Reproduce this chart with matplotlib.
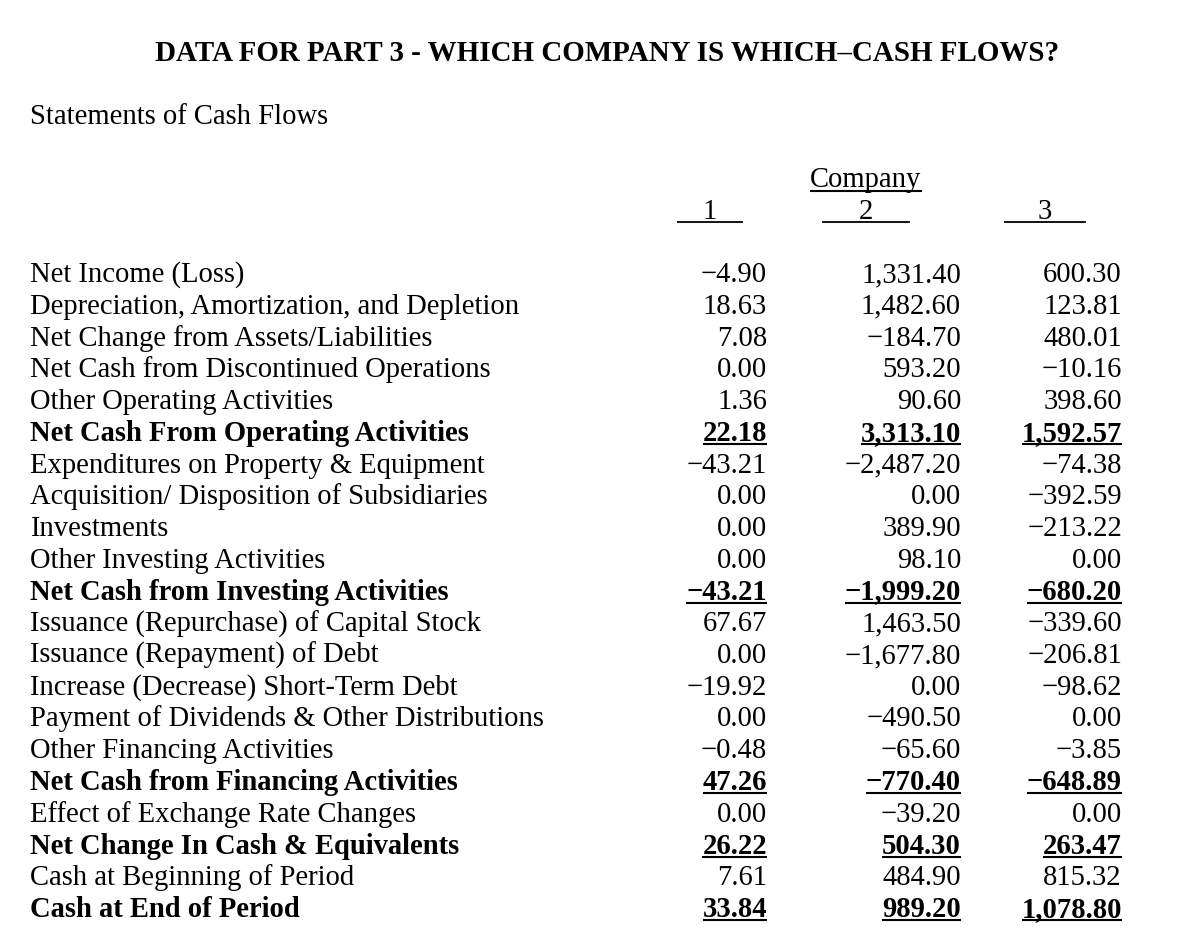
import matplotlib.pyplot as plt

plt.rcParams['font.family'] = ['Liberation Serif', 'DejaVu Serif']

title = 'DATA FOR PART 3 - WHICH COMPANY IS WHICH\u2013CASH FLOWS?'
subtitle = 'Statements of Cash Flows'
companies = ['1', '2', '3']

items = [
    'Net Income (Loss)',
    'Depreciation, Amortization, and Depletion',
    'Net Change from Assets/Liabilities',
    'Net Cash from Discontinued Operations',
    'Other Operating Activities',
    'Net Cash From Operating Activities',
    'Expenditures on Property & Equipment',
    'Acquisition/ Disposition of Subsidiaries',
    'Investments',
    'Other Investing Activities',
    'Net Cash from Investing Activities',
    'Issuance (Repurchase) of Capital Stock',
    'Issuance (Repayment) of Debt',
    'Increase (Decrease) Short-Term Debt',
    'Payment of Dividends & Other Distributions',
    'Other Financing Activities',
    'Net Cash from Financing Activities',
    'Effect of Exchange Rate Changes',
    'Net Change In Cash & Equivalents',
    'Cash at Beginning of Period',
    'Cash at End of Period',
]

company1 = [-4.90, 18.63, 7.08, 0.00, 1.36, 22.18, -43.21, 0.00, 0.00, 0.00, -43.21,
            67.67, 0.00, -19.92, 0.00, -0.48, 47.26, 0.00, 26.22, 7.61, 33.84]
company2 = [1331.40, 1482.60, -184.70, 593.20, 90.60, 3313.10, -2487.20, 0.00, 389.90, 98.10,
            -1999.20, 1463.50, -1677.80, 0.00, -490.50, -65.60, -770.40, -39.20, 504.30,
            484.90, 989.20]
company3 = [600.30, 123.81, 480.01, -10.16, 398.60, 1592.57, -74.38, -392.59, -213.22, 0.00,
            -680.20, -339.60, -206.81, -98.62, 0.00, -3.85, -648.89, 0.00, 263.47, 815.32,
            1078.80]

total_rows = [5, 10, 16, 18, 20]

fig = plt.figure(figsize=(11.8, 9.48), dpi=100)
ax = fig.add_axes([0, 0, 1, 1])
ax.set_xlim(0, 1180)
ax.set_ylim(948, 0)
ax.axis('off')

fs = 20.6
fig.canvas.draw()
renderer = fig.canvas.get_renderer()


def underline(t, y):
    bb = t.get_window_extent(renderer).transformed(ax.transData.inverted())
    ax.plot([bb.x0, bb.x1], [y, y], color='black', lw=1.5, solid_capstyle='butt')


ax.text(607, 61, title, ha='center', va='baseline', fontsize=20.9, fontweight='bold')
ax.text(30, 124, subtitle, ha='left', va='baseline', fontsize=fs)

t = ax.text(866, 187, 'Company', ha='center', va='baseline', fontsize=fs)
underline(t, 191)

head_x = [710, 866, 1045]
head_half = [32, 43, 40]
for cx, hw, c in zip(head_x, head_half, companies):
    ax.text(cx, 219, c, ha='center', va='baseline', fontsize=fs)
    ax.plot([cx - hw, cx + hw], [222, 222], color='black', lw=1.3)

col_x = [767, 961, 1122]
y0 = 282
dy = 31.75


def fmt(v):
    return f'{v:,.2f}'.replace('-', '\u2212')


for i, name in enumerate(items):
    y = y0 + i * dy
    bold = i in total_rows
    w = 'bold' if bold else 'normal'
    ax.text(30, y, name, ha='left', va='baseline', fontsize=fs, fontweight=w)
    for x, vals in zip(col_x, [company1, company2, company3]):
        t = ax.text(x, y, fmt(vals[i]), ha='right', va='baseline', fontsize=fs, fontweight=w)
        if bold:
            underline(t, y + 3)

fig.savefig('out.png', dpi=100)
